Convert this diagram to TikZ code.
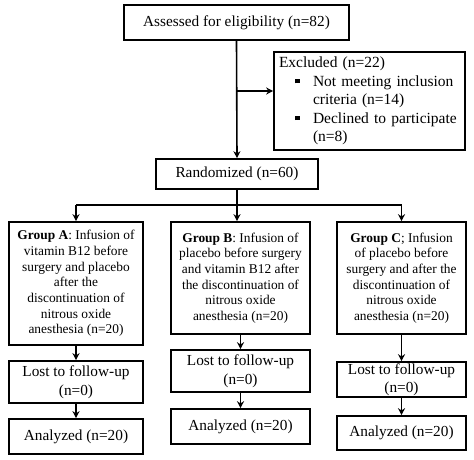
\documentclass[tikz,border=0pt]{standalone}
\usepackage{fontspec}
\setmainfont{Liberation Serif}
\usepackage{tikz}
\usetikzlibrary{arrows.meta}
\tikzset{
  box/.style={draw, line width=1.6pt, inner sep=0pt, align=center, font=\fontsize{15.3}{18}\selectfont},
  grp/.style={box, font=\fontsize{13.4}{15.7}\selectfont},
  lost/.style={box, font=\fontsize{15.3}{19}\selectfont},
  flow/.style={-{Stealth[length=7pt,width=7pt]}, line width=1.6pt},
  link/.style={line width=1.6pt}
}
\newcommand{\sqbul}{\raisebox{3pt}{\rule{4.5pt}{4.5pt}}}

\begin{document}
\begin{tikzpicture}[x=1pt,y=-1pt]
  \useasboundingbox (0,0) rectangle (474,460);
  % top part
  \node[box, minimum width=225pt, minimum height=35pt] (assess) at (236.5,22.5) {Assessed for eligibility (n=82)};
  \node[box, minimum width=191pt, minimum height=98pt, align=left, text width=181pt, inner xsep=5pt,
        font=\fontsize{15.5}{18.4}\selectfont] (excl) at (369.5,101)
    {Excluded (n=22)\\
     \hspace*{16pt}\makebox[18pt][l]{\sqbul}Not meeting inclusion\\
     \hspace*{34pt}criteria (n=14)\\
     \hspace*{16pt}\makebox[18pt][l]{\sqbul}Declined to participate\\
     \hspace*{34pt}(n=8)};
  \node[box, minimum width=162pt, minimum height=30pt] (rand) at (237,174) {Randomized (n=60)};
  \coordinate (branch) at (assess.south |- 0,91);
  \coordinate (split) at (237,205);
  \draw[flow] (assess.south) -- (rand.north);
  \draw[flow] (branch) -- (excl.west |- branch);
  % groups
  \node[grp, minimum width=134pt, minimum height=123pt] (gA) at (76,283.5)
    {\textbf{Group A}: Infusion of\\vitamin B12 before\\surgery and placebo\\after the\\discontinuation of\\nitrous oxide\\anesthesia (n=20)};
  \node[grp, minimum width=139pt, minimum height=112pt] (gB) at (240.5,278)
    {\textbf{Group B}: Infusion of\\placebo before surgery\\and vitamin B12 after\\the discontinuation of\\nitrous oxide\\anesthesia (n=20)};
  \node[grp, minimum width=129pt, minimum height=112pt] (gC) at (401.5,278)
    {\textbf{Group C}; Infusion\\of placebo before\\surgery and after the\\discontinuation of\\nitrous oxide\\anesthesia (n=20)};
  \draw[link] (rand.south) -- (split);
  \draw[link] (gA.north |- split) -- (gC.north |- split);
  \draw[flow] (gA.north |- split) -- (gA.north);
  \draw[flow] (split) -- (gB.north -| split);
  \draw[flow] (gC.north |- split) -- (gC.north);
  % follow-up
  \node[lost, minimum width=134pt, minimum height=42pt] (lA) at (76,382) {Lost to follow-up\\(n=0)};
  \node[lost, minimum width=139pt, minimum height=42pt] (lB) at (240.5,371) {Lost to follow-up\\(n=0)};
  \node[lost, minimum width=129pt, minimum height=35pt, font=\fontsize{15.3}{18}\selectfont] (lC) at (401.5,379.5) {Lost to follow-up\\(n=0)};
  \node[box, minimum width=134pt, minimum height=35pt] (aA) at (76,436.5) {Analyzed (n=20)};
  \node[box, minimum width=139pt, minimum height=35pt] (aB) at (240.5,426.5) {Analyzed (n=20)};
  \node[box, minimum width=129pt, minimum height=34pt] (aC) at (401.5,433) {Analyzed (n=20)};
  \draw[flow] (gA) -- (lA);
  \draw[flow] (gB) -- (lB);
  \draw[flow] (gC) -- (lC);
  \draw[flow] (lA) -- (aA);
  \draw[flow] (lB) -- (aB);
  \draw[flow] (lC) -- (aC);
\end{tikzpicture}
\end{document}
